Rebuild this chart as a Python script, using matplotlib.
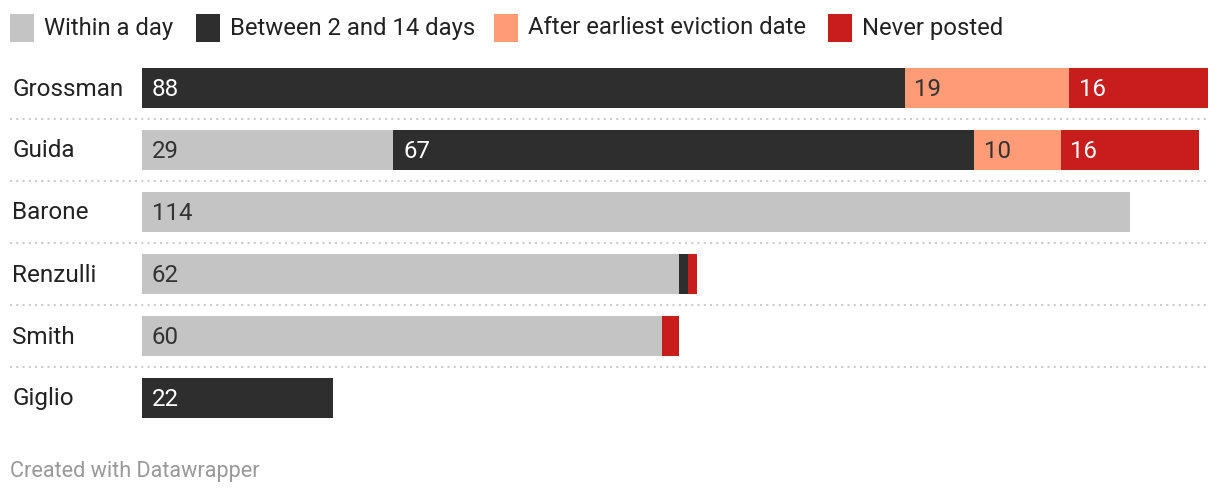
import matplotlib.pyplot as plt
from matplotlib.patches import Rectangle
from matplotlib.lines import Line2D

plt.rcParams['font.family'] = ['Roboto', 'DejaVu Sans']

names = ['Grossman', 'Guida', 'Barone', 'Renzulli', 'Smith', 'Giglio']
within_day = [0, 29, 114, 62, 60, 0]
two_to_14 = [88, 67, 0, 1, 0, 22]
after_eviction = [19, 10, 0, 0, 0, 0]
never_posted = [16, 16, 0, 1, 2, 0]

series = [within_day, two_to_14, after_eviction, never_posted]
series_names = ['Within a day', 'Between 2 and 14 days',
                'After earliest eviction date', 'Never posted']
colors = ['#c4c4c4', '#2e2e2e', '#ff9b76', '#c71e1d']
text_colors = ['#333333', 'white', '#333333', 'white']

W, H = 1220, 496
fig = plt.figure(figsize=(W / 100, H / 100), dpi=100)

# axes placed in pixel coordinates: bars start at x=142, 123 units -> x=1208
ax = fig.add_axes([142 / W, 1 - 429 / H, (1208 - 142) / W, (429 - 57) / H])
ax.set_xlim(0, 123)
ax.set_ylim(len(names) - 0.5, -0.5)
ax.axis('off')

bar_h = 40 / 62
for i, name in enumerate(names):
    left = 0
    for s, vals in enumerate(series):
        v = vals[i]
        if v == 0:
            continue
        ax.barh(i, v, left=left, height=bar_h, color=colors[s], linewidth=0)
        if v >= 5:
            ax.annotate(str(v), (left, i), xytext=(7, 1), textcoords='offset points',
                        ha='left', va='center_baseline', fontsize=17.3,
                        color=text_colors[s])
        left += v
    y_px = 88 + 62 * i
    fig.text(12 / W, 1 - (y_px - 1.5) / H, name, ha='left', va='center_baseline',
             fontsize=17.5, color='#222222')
    if i < len(names) - 1:
        ys = 1 - (y_px + 31) / H
        fig.add_artist(Line2D([10 / W, 1208 / W], [ys, ys], color='#cccccc',
                              linestyle=(0, (1, 2)), linewidth=1.5))

# legend
leg_x = [10, 196, 494, 828]
for s, lbl in enumerate(series_names):
    x0 = leg_x[s]
    fig.add_artist(Rectangle((x0 / W, 1 - 42 / H), 24 / W, 28 / H,
                             color=colors[s], transform=fig.transFigure, linewidth=0))
    fig.text((x0 + 34) / W, 1 - 25.5 / H, lbl, ha='left', va='center_baseline',
             fontsize=17.2, color='#222222')

fig.text(10 / W, 1 - 469 / H, 'Created with Datawrapper', ha='left',
         va='center_baseline', fontsize=15.6, color='#999999')

fig.savefig('out.png', dpi=100)
